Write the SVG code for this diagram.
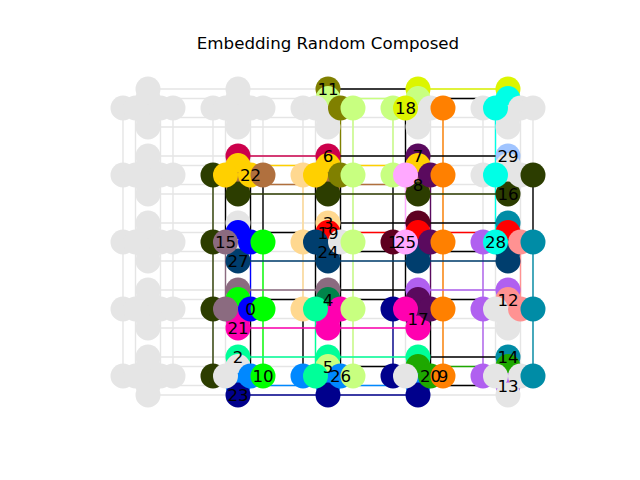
<svg xmlns="http://www.w3.org/2000/svg" xmlns:xlink="http://www.w3.org/1999/xlink" width="640" height="480" viewBox="0 0 640 480">
<style>
circle{stroke-width:0}
line,path{stroke-width:1.4;fill:none}
text{font-family:"DejaVu Sans","Liberation Sans",sans-serif;font-size:16.67px;text-anchor:middle;fill:#000}
.g{fill:#e5e5e5;stroke:#e5e5e5}
.k{stroke:#000}
.ol{fill:#808000;stroke:#808000}
.li{fill:#c8ff80;stroke:#c8ff80}
.ye{fill:#dcf500;stroke:#dcf500}
.or{fill:#ff8000;stroke:#ff8000}
.cy{fill:#00ffe6;stroke:#00ffe6}
.cr{fill:#cc004c;stroke:#cc004c}
.go{fill:#ffd000;stroke:#ffd000}
.lo{fill:#ffd890;stroke:#ffd890}
.do{fill:#2c3d00;stroke:#2c3d00}
.br{fill:#b0703e;stroke:#b0703e}
.dp{fill:#5a0a5e;stroke:#5a0a5e}
.pk{fill:#ffa8ff;stroke:#ffa8ff}
.lb{fill:#a0c4ff;stroke:#a0c4ff}
.mv{fill:#8b6b80;stroke:#8b6b80}
.bl{fill:#0000ff;stroke:#0000ff}
.gr{fill:#00ff00;stroke:#00ff00}
.db{fill:#003e6e;stroke:#003e6e}
.rd{fill:#ff0000;stroke:#ff0000}
.mr{fill:#5e0020;stroke:#5e0020}
.tl{fill:#008ca6;stroke:#008ca6}
.pu{fill:#b060f0;stroke:#b060f0}
.sa{fill:#ff9292;stroke:#ff9292}
.mg{fill:#ff00b0;stroke:#ff00b0}
.mi{fill:#00ff99;stroke:#00ff99}
.nv{fill:#00008c;stroke:#00008c}
.az{fill:#0088ff;stroke:#0088ff}
.g2{fill:#1ea800;stroke:#1ea800}
.dg{fill:#00844a;stroke:#00844a}
</style>
<defs>
<g id="cross" class="g">
<circle cx="0" cy="-19" r="12.5"/><circle cx="0" cy="-9.5" r="12.5"/><circle cx="0" cy="9.5" r="12.5"/><circle cx="0" cy="19" r="12.5"/>
<circle cx="-25" cy="0" r="12.5"/><circle cx="-12.5" cy="0" r="12.5"/><circle cx="12.5" cy="0" r="12.5"/><circle cx="25" cy="0" r="12.5"/>
</g>
</defs>
<rect width="640" height="480" fill="#fff"/>
<text x="328" y="49.3">Embedding Random Composed</text>
<g id="connectors">
<path class="g" d="M123 108V376M135.5 108V376M160.5 108V376M173 108V376M213 108V376M225.5 108V376M250.5 108V376M263 108V376M303 108V376M315.5 108V376M340.5 108V376M353 108V376M393 108V376M405.5 108V376M430.5 108V376M443 108V376M483 108V376M495.5 108V376M520.5 108V376M533 108V376"/>
<path class="g" d="M148 89H508M148 98.5H508M148 117.5H508M148 127H508M148 156H508M148 165.5H508M148 184.5H508M148 194H508M148 223H508M148 232.5H508M148 251.5H508M148 261H508M148 290H508M148 299.5H508M148 318.5H508M148 328H508M148 357H508M148 366.5H508M148 385.5H508M148 395H508"/>
<line class="do" x1="213" y1="175" x2="213" y2="376"/>
<line class="k" x1="225.5" y1="175" x2="225.5" y2="242"/>
<line class="mv" x1="225.5" y1="242" x2="225.5" y2="309"/>
<line class="k" x1="250.5" y1="175" x2="250.5" y2="242"/>
<line class="bl" x1="250.5" y1="242" x2="250.5" y2="309"/>
<line class="k" x1="250.5" y1="309" x2="250.5" y2="376"/>
<line class="k" x1="263" y1="175" x2="263" y2="242"/>
<line class="gr" x1="263" y1="242" x2="263" y2="376"/>
<line class="lo" x1="303" y1="175" x2="303" y2="309"/>
<line class="k" x1="303" y1="309" x2="303" y2="376"/>
<line class="k" x1="315.5" y1="175" x2="315.5" y2="309"/>
<line class="mi" x1="315.5" y1="309" x2="315.5" y2="376"/>
<line class="ol" x1="340.5" y1="108" x2="340.5" y2="175"/>
<line class="k" x1="340.5" y1="175" x2="340.5" y2="376"/>
<line class="li" x1="353" y1="108" x2="353" y2="376"/>
<line class="li" x1="393" y1="108" x2="393" y2="175"/>
<line class="k" x1="393" y1="175" x2="393" y2="309"/>
<line class="nv" x1="393" y1="309" x2="393" y2="376"/>
<line class="k" x1="405.5" y1="108" x2="405.5" y2="175"/>
<line class="pk" x1="405.5" y1="175" x2="405.5" y2="242"/>
<line class="k" x1="405.5" y1="242" x2="405.5" y2="309"/>
<line class="dp" x1="430.5" y1="175" x2="430.5" y2="309"/>
<line class="k" x1="430.5" y1="309" x2="430.5" y2="376"/>
<line class="or" x1="443" y1="108" x2="443" y2="376"/>
<line class="pu" x1="483" y1="242" x2="483" y2="376"/>
<line class="cy" x1="495.5" y1="108" x2="495.5" y2="242"/>
<line class="sa" x1="520.5" y1="242" x2="520.5" y2="309"/>
<line class="k" x1="533" y1="175" x2="533" y2="242"/>
<line class="tl" x1="533" y1="242" x2="533" y2="376"/>
<line class="k" x1="328" y1="89" x2="418" y2="89"/>
<line class="ye" x1="418" y1="89" x2="508" y2="89"/>
<line class="li" x1="328" y1="98.5" x2="418" y2="98.5"/>
<line class="k" x1="418" y1="98.5" x2="508" y2="98.5"/>
<line class="cr" x1="238" y1="156" x2="328" y2="156"/>
<line class="k" x1="328" y1="156" x2="508" y2="156"/>
<line class="go" x1="238" y1="165.5" x2="418" y2="165.5"/>
<line class="br" x1="238" y1="184.5" x2="418" y2="184.5"/>
<line class="do" x1="238" y1="194" x2="508" y2="194"/>
<line class="k" x1="328" y1="223" x2="508" y2="223"/>
<line class="k" x1="238" y1="232.5" x2="328" y2="232.5"/>
<line class="rd" x1="328" y1="232.5" x2="508" y2="232.5"/>
<line class="k" x1="328" y1="251.5" x2="508" y2="251.5"/>
<line class="db" x1="238" y1="261" x2="508" y2="261"/>
<line class="mv" x1="238" y1="290" x2="328" y2="290"/>
<line class="k" x1="328" y1="290" x2="418" y2="290"/>
<line class="pu" x1="418" y1="290" x2="508" y2="290"/>
<line class="k" x1="238" y1="299.5" x2="508" y2="299.5"/>
<line class="mg" x1="238" y1="328" x2="418" y2="328"/>
<line class="mi" x1="238" y1="357" x2="418" y2="357"/>
<line class="k" x1="418" y1="357" x2="508" y2="357"/>
<line class="k" x1="328" y1="366.5" x2="418" y2="366.5"/>
<line class="g2" x1="418" y1="366.5" x2="508" y2="366.5"/>
<line class="az" x1="238" y1="385.5" x2="418" y2="385.5"/>
<line class="k" x1="418" y1="385.5" x2="508" y2="385.5"/>
<line class="nv" x1="238" y1="395" x2="418" y2="395"/>
</g>
<g id="nodes">
<g id="n0-0"><use xlink:href="#cross" transform="translate(148,108)"/></g>
<g id="n1-0"><use xlink:href="#cross" transform="translate(238,108)"/></g>
<g id="n2-0"><circle class="ol" cx="328" cy="89" r="12.5"/><circle class="li" cx="328" cy="98.5" r="12.5"/><circle class="g" cx="328" cy="117.5" r="12.5"/><circle class="g" cx="328" cy="127" r="12.5"/><circle class="g" cx="303" cy="108" r="12.5"/><circle class="g" cx="315.5" cy="108" r="12.5"/><circle class="ol" cx="340.5" cy="108" r="12.5"/><circle class="li" cx="353" cy="108" r="12.5"/></g>
<g id="n3-0"><circle class="ye" cx="418" cy="89" r="12.5"/><circle class="li" cx="418" cy="98.5" r="12.5"/><circle class="g" cx="418" cy="117.5" r="12.5"/><circle class="g" cx="418" cy="127" r="12.5"/><circle class="li" cx="393" cy="108" r="12.5"/><circle class="ye" cx="405.5" cy="108" r="12.5"/><circle class="g" cx="430.5" cy="108" r="12.5"/><circle class="or" cx="443" cy="108" r="12.5"/></g>
<g id="n4-0"><circle class="ye" cx="508" cy="89" r="12.5"/><circle class="cy" cx="508" cy="98.5" r="12.5"/><circle class="g" cx="508" cy="117.5" r="12.5"/><circle class="g" cx="508" cy="127" r="12.5"/><circle class="g" cx="483" cy="108" r="12.5"/><circle class="cy" cx="495.5" cy="108" r="12.5"/><circle class="g" cx="520.5" cy="108" r="12.5"/><circle class="g" cx="533" cy="108" r="12.5"/></g>
<g id="n0-1"><use xlink:href="#cross" transform="translate(148,175)"/></g>
<g id="n1-1"><circle class="cr" cx="238" cy="156" r="12.5"/><circle class="go" cx="238" cy="165.5" r="12.5"/><circle class="br" cx="238" cy="184.5" r="12.5"/><circle class="do" cx="238" cy="194" r="12.5"/><circle class="do" cx="213" cy="175" r="12.5"/><circle class="go" cx="225.5" cy="175" r="12.5"/><circle class="go" cx="250.5" cy="175" r="12.5"/><circle class="br" cx="263" cy="175" r="12.5"/></g>
<g id="n2-1"><circle class="cr" cx="328" cy="156" r="12.5"/><circle class="go" cx="328" cy="165.5" r="12.5"/><circle class="br" cx="328" cy="184.5" r="12.5"/><circle class="do" cx="328" cy="194" r="12.5"/><circle class="lo" cx="303" cy="175" r="12.5"/><circle class="go" cx="315.5" cy="175" r="12.5"/><circle class="ol" cx="340.5" cy="175" r="12.5"/><circle class="li" cx="353" cy="175" r="12.5"/></g>
<g id="n3-1"><circle class="dp" cx="418" cy="156" r="12.5"/><circle class="go" cx="418" cy="165.5" r="12.5"/><circle class="br" cx="418" cy="184.5" r="12.5"/><circle class="do" cx="418" cy="194" r="12.5"/><circle class="li" cx="393" cy="175" r="12.5"/><circle class="pk" cx="405.5" cy="175" r="12.5"/><circle class="dp" cx="430.5" cy="175" r="12.5"/><circle class="or" cx="443" cy="175" r="12.5"/></g>
<g id="n4-1"><circle class="lb" cx="508" cy="156" r="12.5"/><circle class="g" cx="508" cy="165.5" r="12.5"/><circle class="g" cx="508" cy="184.5" r="12.5"/><circle class="do" cx="508" cy="194" r="12.5"/><circle class="g" cx="483" cy="175" r="12.5"/><circle class="cy" cx="495.5" cy="175" r="12.5"/><circle class="g" cx="520.5" cy="175" r="12.5"/><circle class="do" cx="533" cy="175" r="12.5"/></g>
<g id="n0-2"><use xlink:href="#cross" transform="translate(148,242)"/></g>
<g id="n1-2"><circle class="g" cx="238" cy="223" r="12.5"/><circle class="bl" cx="238" cy="232.5" r="12.5"/><circle class="g" cx="238" cy="251.5" r="12.5"/><circle class="db" cx="238" cy="261" r="12.5"/><circle class="do" cx="213" cy="242" r="12.5"/><circle class="mv" cx="225.5" cy="242" r="12.5"/><circle class="bl" cx="250.5" cy="242" r="12.5"/><circle class="gr" cx="263" cy="242" r="12.5"/></g>
<g id="n2-2"><circle class="lo" cx="328" cy="223" r="12.5"/><circle class="rd" cx="328" cy="232.5" r="12.5"/><circle class="db" cx="328" cy="251.5" r="12.5"/><circle class="db" cx="328" cy="261" r="12.5"/><circle class="lo" cx="303" cy="242" r="12.5"/><circle class="db" cx="315.5" cy="242" r="12.5"/><circle class="g" cx="340.5" cy="242" r="12.5"/><circle class="li" cx="353" cy="242" r="12.5"/></g>
<g id="n3-2"><circle class="mr" cx="418" cy="223" r="12.5"/><circle class="rd" cx="418" cy="232.5" r="12.5"/><circle class="db" cx="418" cy="251.5" r="12.5"/><circle class="db" cx="418" cy="261" r="12.5"/><circle class="mr" cx="393" cy="242" r="12.5"/><circle class="pk" cx="405.5" cy="242" r="12.5"/><circle class="dp" cx="430.5" cy="242" r="12.5"/><circle class="or" cx="443" cy="242" r="12.5"/></g>
<g id="n4-2"><circle class="tl" cx="508" cy="223" r="12.5"/><circle class="rd" cx="508" cy="232.5" r="12.5"/><circle class="db" cx="508" cy="251.5" r="12.5"/><circle class="db" cx="508" cy="261" r="12.5"/><circle class="pu" cx="483" cy="242" r="12.5"/><circle class="cy" cx="495.5" cy="242" r="12.5"/><circle class="sa" cx="520.5" cy="242" r="12.5"/><circle class="tl" cx="533" cy="242" r="12.5"/></g>
<g id="n0-3"><use xlink:href="#cross" transform="translate(148,309)"/></g>
<g id="n1-3"><circle class="mv" cx="238" cy="290" r="12.5"/><circle class="gr" cx="238" cy="299.5" r="12.5"/><circle class="mg" cx="238" cy="318.5" r="12.5"/><circle class="mg" cx="238" cy="328" r="12.5"/><circle class="do" cx="213" cy="309" r="12.5"/><circle class="mv" cx="225.5" cy="309" r="12.5"/><circle class="bl" cx="250.5" cy="309" r="12.5"/><circle class="gr" cx="263" cy="309" r="12.5"/></g>
<g id="n2-3"><circle class="mv" cx="328" cy="290" r="12.5"/><circle class="dg" cx="328" cy="299.5" r="12.5"/><circle class="mg" cx="328" cy="318.5" r="12.5"/><circle class="mg" cx="328" cy="328" r="12.5"/><circle class="lo" cx="303" cy="309" r="12.5"/><circle class="mi" cx="315.5" cy="309" r="12.5"/><circle class="mg" cx="340.5" cy="309" r="12.5"/><circle class="li" cx="353" cy="309" r="12.5"/></g>
<g id="n3-3"><circle class="pu" cx="418" cy="290" r="12.5"/><circle class="dp" cx="418" cy="299.5" r="12.5"/><circle class="dp" cx="418" cy="318.5" r="12.5"/><circle class="mg" cx="418" cy="328" r="12.5"/><circle class="nv" cx="393" cy="309" r="12.5"/><circle class="mg" cx="405.5" cy="309" r="12.5"/><circle class="dp" cx="430.5" cy="309" r="12.5"/><circle class="or" cx="443" cy="309" r="12.5"/></g>
<g id="n4-3"><circle class="pu" cx="508" cy="290" r="12.5"/><circle class="sa" cx="508" cy="299.5" r="12.5"/><circle class="g" cx="508" cy="318.5" r="12.5"/><circle class="g" cx="508" cy="328" r="12.5"/><circle class="pu" cx="483" cy="309" r="12.5"/><circle class="g" cx="495.5" cy="309" r="12.5"/><circle class="sa" cx="520.5" cy="309" r="12.5"/><circle class="tl" cx="533" cy="309" r="12.5"/></g>
<g id="n0-4"><use xlink:href="#cross" transform="translate(148,376)"/></g>
<g id="n1-4"><circle class="mi" cx="238" cy="357" r="12.5"/><circle class="g" cx="238" cy="366.5" r="12.5"/><circle class="az" cx="238" cy="385.5" r="12.5"/><circle class="nv" cx="238" cy="395" r="12.5"/><circle class="do" cx="213" cy="376" r="12.5"/><circle class="g" cx="225.5" cy="376" r="12.5"/><circle class="az" cx="250.5" cy="376" r="12.5"/><circle class="gr" cx="263" cy="376" r="12.5"/></g>
<g id="n2-4"><circle class="mi" cx="328" cy="357" r="12.5"/><circle class="li" cx="328" cy="366.5" r="12.5"/><circle class="az" cx="328" cy="385.5" r="12.5"/><circle class="nv" cx="328" cy="395" r="12.5"/><circle class="az" cx="303" cy="376" r="12.5"/><circle class="mi" cx="315.5" cy="376" r="12.5"/><circle class="az" cx="340.5" cy="376" r="12.5"/><circle class="li" cx="353" cy="376" r="12.5"/></g>
<g id="n3-4"><circle class="mi" cx="418" cy="357" r="12.5"/><circle class="g2" cx="418" cy="366.5" r="12.5"/><circle class="az" cx="418" cy="385.5" r="12.5"/><circle class="nv" cx="418" cy="395" r="12.5"/><circle class="nv" cx="393" cy="376" r="12.5"/><circle class="g" cx="405.5" cy="376" r="12.5"/><circle class="g2" cx="430.5" cy="376" r="12.5"/><circle class="or" cx="443" cy="376" r="12.5"/></g>
<g id="n4-4"><circle class="tl" cx="508" cy="357" r="12.5"/><circle class="g2" cx="508" cy="366.5" r="12.5"/><circle class="pu" cx="508" cy="385.5" r="12.5"/><circle class="g" cx="508" cy="395" r="12.5"/><circle class="pu" cx="483" cy="376" r="12.5"/><circle class="g" cx="495.5" cy="376" r="12.5"/><circle class="g" cx="520.5" cy="376" r="12.5"/><circle class="tl" cx="533" cy="376" r="12.5"/></g>
</g>
<g id="labels">
<text x="250.5" y="315">0</text>
<text x="393" y="248">1</text>
<text x="238" y="363">2</text>
<text x="328" y="229">3</text>
<text x="328" y="305.5">4</text>
<text x="328" y="372.5">5</text>
<text x="328" y="162">6</text>
<text x="418" y="162">7</text>
<text x="418" y="190.5">8</text>
<text x="443" y="382">9</text>
<text x="263" y="382">10</text>
<text x="328" y="95">11</text>
<text x="508" y="305.5">12</text>
<text x="508" y="391.5">13</text>
<text x="508" y="363">14</text>
<text x="225.5" y="248">15</text>
<text x="508" y="200">16</text>
<text x="418" y="324.5">17</text>
<text x="405.5" y="114">18</text>
<text x="328" y="238.5">19</text>
<text x="430.5" y="382">20</text>
<text x="238" y="334">21</text>
<text x="250.5" y="181">22</text>
<text x="238" y="401">23</text>
<text x="328" y="257.5">24</text>
<text x="405.5" y="248">25</text>
<text x="340.5" y="382">26</text>
<text x="238" y="267">27</text>
<text x="495.5" y="248">28</text>
<text x="508" y="162">29</text>
</g>
</svg>
